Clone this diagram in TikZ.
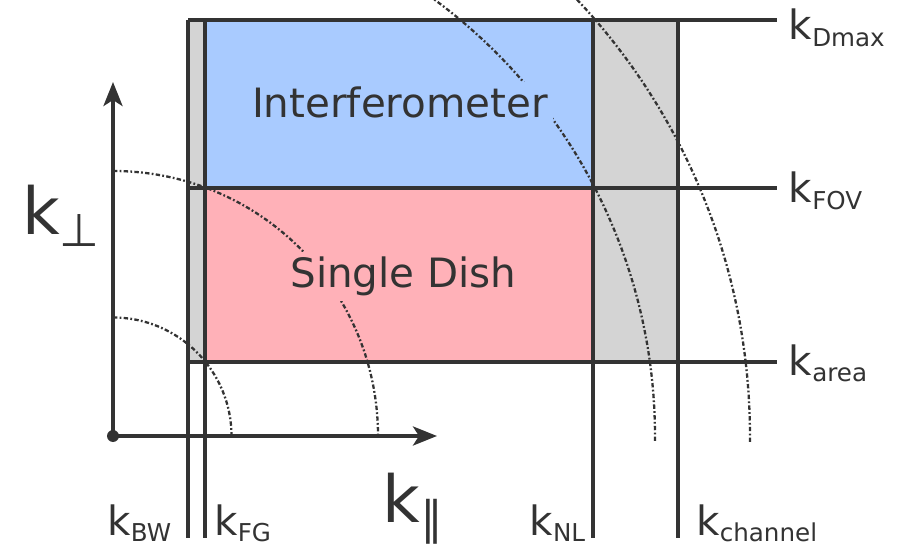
\documentclass[tikz,border=0pt]{standalone}
\usepackage{fontspec}
\setmainfont{DejaVu Sans}
\usetikzlibrary{arrows.meta}
\definecolor{cblue}{HTML}{A9CBFF}
\definecolor{cpink}{HTML}{FFB1B8}
\definecolor{cgrey}{HTML}{D4D4D4}
\definecolor{cline}{HTML}{333333}
\newcommand{\ksub}[1]{k\raisebox{-0.13cm}{\fontsize{14}{14}\selectfont #1}}
\newcommand{\kbig}[1]{k\raisebox{-0.24cm}{\fontsize{26}{26}\selectfont #1}}
\tikzset{
  every picture/.style={line width=2.1pt},
  grid/.style={draw=cline, line width=2.1pt},
  axis/.style={draw=cline, line width=2.1pt, -{Stealth[length=4.8mm, width=3.8mm, inset=1.2mm]}},
  shell/.style={draw=cline, line width=1.3pt, dash pattern=on 2.5pt off 1.3pt on 1pt off 1.3pt},
  region/.style={fill=#1, inner sep=0.1cm, font=\fontsize{23}{27}\selectfont, text=cline},
  klabel/.style={inner sep=0pt, font=\fontsize{23}{27}\selectfont, text=cline},
  bigk/.style={inner sep=0pt, font=\fontsize{37}{40}\selectfont, text=cline},
}

\begin{document}
\begin{tikzpicture}
  \useasboundingbox (-2.26,-2.36) rectangle (16.18,8.72);
  % limits
  \coordinate (o) at (0,0);
  \coordinate (ytip) at (0,7.08);
  \coordinate (xtip) at (6.48,0);
  \coordinate (dmaxL) at (1.5,8.32);
  \coordinate (dmaxR) at (13.28,8.32);
  \coordinate (fovL) at (1.5,4.96);
  \coordinate (fovR) at (13.28,4.96);
  \coordinate (areaL) at (1.5,1.48);
  \coordinate (areaR) at (13.28,1.48);
  \coordinate (bwT) at (1.5,8.32);
  \coordinate (bwB) at (1.5,-2.04);
  \coordinate (fgT) at (1.84,8.32);
  \coordinate (fgB) at (1.84,-2.04);
  \coordinate (nlT) at (9.6,8.32);
  \coordinate (nlB) at (9.6,-2.04);
  \coordinate (chT) at (11.3,8.32);
  \coordinate (chB) at (11.3,-2.04);
  % regions
  \fill[cgrey] (areaL) rectangle (fgT);
  \fill[cgrey] (nlT |- areaL) rectangle (chT);
  \fill[cblue] (fgT |- fovL) rectangle (nlT);
  \fill[cpink] (fgT |- areaL) rectangle (nlT |- fovL);
  % shells of constant k
  \begin{scope}
    \clip (-2.26,-2.36) rectangle (16.18,8.72);
    \draw[shell] (90:2.37) arc[start angle=90, end angle=0, radius=2.37];
    \draw[shell] (90:5.3) arc[start angle=90, end angle=0, radius=5.3];
    \draw[shell] (60:10.84) arc[start angle=60, end angle=-0.6, radius=10.84];
    \draw[shell] (50:12.74) arc[start angle=50, end angle=-0.6, radius=12.74];
  \end{scope}
  \node[region=cblue, anchor=base] (interf) at (5.74,6.36) {Interferometer};
  \node[region=cpink, anchor=base] (sdish) at (5.81,2.96) {Single Dish};
  % limit lines
  \draw[grid] (dmaxL) -- (dmaxR);
  \draw[grid] (fovL) -- (fovR);
  \draw[grid] (areaL) -- (areaR);
  \draw[grid] (bwT) -- (bwB);
  \draw[grid] (fgT) -- (fgB);
  \draw[grid] (nlT) -- (nlB);
  \draw[grid] (chT) -- (chB);
  % axes
  \draw[axis] (o) -- (ytip);
  \draw[axis] (o) -- (xtip);
  \fill[cline] (o) circle (0.12);
  \node[bigk, anchor=base west] (kperp) at (-1.85,4.02) {\kbig{⊥}};
  \node[bigk, anchor=base west] (kpar) at (5.36,-1.72) {\kbig{∥}};
  % labels
  \node[klabel, anchor=base west, xshift=0.2cm, yshift=-0.4cm] (lDmax) at (dmaxR) {\ksub{Dmax}};
  \node[klabel, anchor=base west, xshift=0.2cm, yshift=-0.3cm] (lFOV) at (fovR) {\ksub{FOV}};
  \node[klabel, anchor=base west, xshift=0.2cm, yshift=-0.26cm] (larea) at (areaR) {\ksub{area}};
  \node[klabel, anchor=base east, xshift=-0.3cm, yshift=0.06cm] (lBW) at (bwB) {\ksub{BW}};
  \node[klabel, anchor=base west, xshift=0.15cm, yshift=0.06cm] (lFG) at (fgB) {\ksub{FG}};
  \node[klabel, anchor=base east, xshift=-0.12cm, yshift=0.06cm] (lNL) at (nlB) {\ksub{NL}};
  \node[klabel, anchor=base west, xshift=0.33cm, yshift=0.06cm] (lch) at (chB) {\ksub{channel}};
\end{tikzpicture}
\end{document}
